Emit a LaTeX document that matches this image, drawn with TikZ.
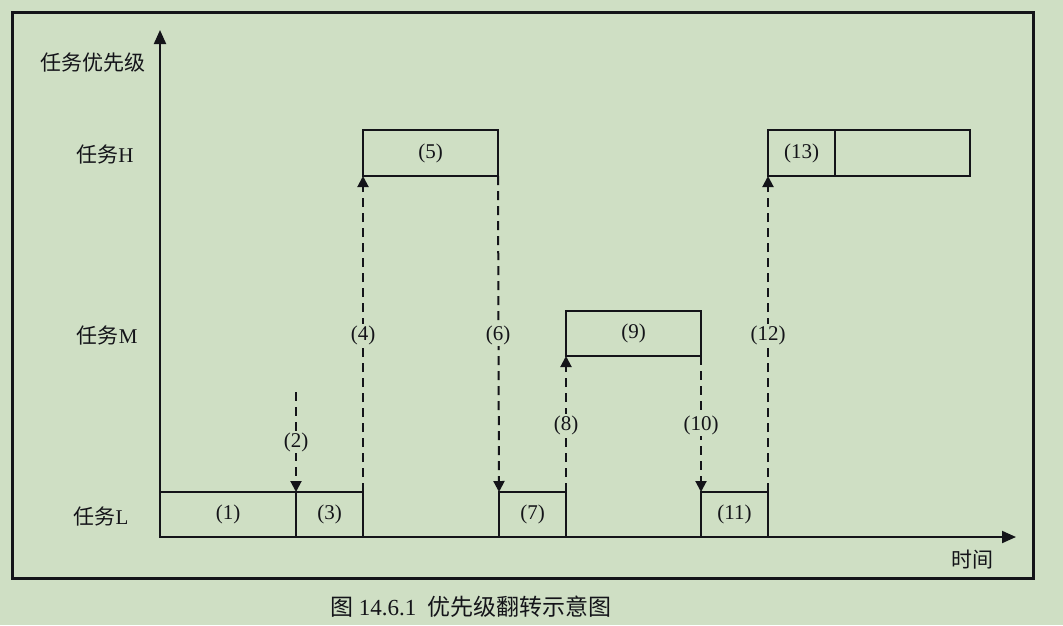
\documentclass[tikz,border=0pt]{standalone}
\usepackage{fontspec}
\setmainfont{Liberation Serif}
\newfontfamily\cjk{Noto Sans CJK SC}
\usetikzlibrary{arrows.meta}
\definecolor{bg}{RGB}{207,223,196}
\definecolor{ink}{RGB}{20,20,25}
\tikzset{
  box/.style={draw=ink, line width=2pt, inner sep=0pt, outer sep=0pt, font=\fontsize{21}{21}\selectfont, text=ink},
  lbl/.style={font=\fontsize{21}{21}\selectfont, text=ink, fill=bg, inner sep=1.5pt},
  ylbl/.style={font=\fontsize{21}{21}\selectfont, text=ink, anchor=east},
  dsh/.style={draw=ink, line width=2pt, dash pattern=on 9pt off 6pt, -{Triangle[width=11pt,length=11pt]}},
  axis/.style={draw=ink, line width=2pt, -{Triangle[width=12pt,length=14pt]}},
}
\begin{document}
\begin{tikzpicture}[x=1pt,y=-1pt]
\fill[bg] (0,0) rectangle (1063,625);
\useasboundingbox (0,0) rectangle (1063,625);
\draw[ink, line width=3pt] (12,12) rectangle (1033,578);
% axes
\coordinate (O) at (160,537);
\coordinate (ytop) at (160,30);
\coordinate (xend) at (1016,537);
\draw[axis] (O) -- (ytop);
\draw[axis] (O) -- (xend);
% axis labels
\node[ylbl] (yl) at (149,63) {\cjk 任务优先级};
\node[ylbl] (lh) at (137,155) {{\cjk 任务}H};
\node[ylbl] (lm) at (141,335) {{\cjk 任务}M};
\node[ylbl] (ll) at (132,516) {{\cjk 任务}L};
\node[font=\fontsize{21}{21}\selectfont, text=ink] (tl) at (972,560) {\cjk 时间};
% boxes
\node[box, minimum width=136pt, minimum height=45pt] (b1) at (228,514.5) {(1)};
\node[box, minimum width=67pt, minimum height=45pt] (b3) at (329.5,514.5) {(3)};
\node[box, minimum width=135pt, minimum height=46pt] (b5) at (430.5,153) {(5)};
\node[box, minimum width=67pt, minimum height=45pt] (b7) at (532.5,514.5) {(7)};
\node[box, minimum width=135pt, minimum height=45pt] (b9) at (633.5,333.5) {(9)};
\node[box, minimum width=67pt, minimum height=45pt] (b11) at (734.5,514.5) {(11)};
\node[box, minimum width=67pt, minimum height=46pt] (b13) at (801.5,153) {(13)};
\node[box, minimum width=135pt, minimum height=46pt] (b14) at (902.5,153) {};
% dashed transitions
\coordinate (s2) at (296,392);
\draw[dsh] (s2) -- (b1.north east);
\draw[dsh] (b3.north east) -- (b5.south west);
\draw[dsh] (b5.south east) -- (b7.north west);
\draw[dsh] (b7.north east) -- (b9.south west);
\draw[dsh] (b9.south east) -- (b11.north west);
\draw[dsh] (b11.north east) -- (b13.south west);
% labels
\node[lbl] (l2) at (296,442) {(2)};
\node[lbl] (l4) at (363,335) {(4)};
\node[lbl] (l6) at (498,335) {(6)};
\node[lbl] (l8) at (566,425) {(8)};
\node[lbl] (l10) at (701,425) {(10)};
\node[lbl] (l12) at (768,335) {(12)};
% caption
\node[font=\fontsize{23}{23}\selectfont, text=ink] (cap) at (471,607) {{\cjk 图} 14.6.1\ \ {\cjk 优先级翻转示意图}};
\end{tikzpicture}
\end{document}
